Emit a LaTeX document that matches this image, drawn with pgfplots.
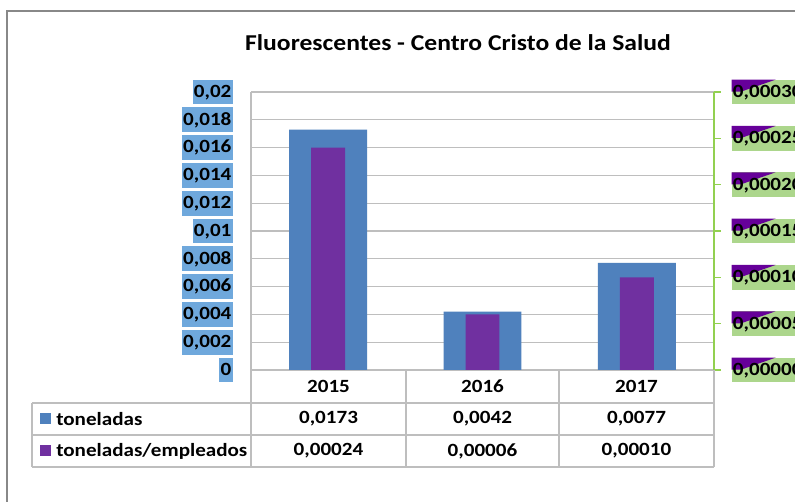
\documentclass[border=0pt]{standalone}
\usepackage{fontspec}
\setmainfont{Carlito}[FakeStretch=1.13]
\usepackage{pgfplots}
\pgfplotsset{compat=1.18}
\definecolor{tonblue}{RGB}{79,129,189}
\definecolor{tonpurp}{RGB}{112,48,160}
\definecolor{lblblue}{RGB}{111,168,220}
\definecolor{lblgreen}{RGB}{172,214,140}
\definecolor{trip}{RGB}{102,0,153}
\definecolor{axgreen}{RGB}{146,208,80}
\definecolor{gridgray}{RGB}{190,190,190}
\definecolor{framegray}{RGB}{136,136,136}
\newcommand\lblfont{\fontsize{14}{14}\selectfont\bfseries}
\newcommand\tabfont{\fontsize{14}{14}\selectfont\bfseries}
\begin{document}
\begin{tikzpicture}[x=0.75pt,y=0.75pt]
\useasboundingbox (0,0) rectangle (795,502);
\fill[white] (0,0) rectangle (795,502);
\draw[framegray, line width=1.5pt] (7,0) -- (7,491) -- (795,491);

% left axis: toneladas
\begin{axis}[
    at={(188.25pt,99pt)}, anchor=south west,
    scale only axis, width=347.25pt, height=208.5pt,
    xmin=-0.5, xmax=2.5, ymin=0, ymax=0.02,
    axis x line*=bottom, axis y line*=left,
    axis line style={gridgray, line width=1pt, -},
    xtick=\empty,
    ytick={0,0.002,0.004,0.006,0.008,0.01,0.012,0.014,0.016,0.018,0.02},
    scaled y ticks=false,
    ymajorgrids, grid style={gridgray, line width=1pt},
    major tick length=0pt,
    /pgf/number format/.cd, use comma, fixed, precision=3, assume math mode=true,
    /pgfplots/.cd,
    yticklabel style={font=\lblfont, fill=lblblue, inner xsep=1pt, inner ysep=0pt,
        text height=13.3pt, text depth=5.2pt, anchor=east, xshift=-13.5pt},
    ybar, bar width=0.505,
]
\addplot[fill=tonblue, draw=none] coordinates {(0,0.0173) (1,0.0042) (2,0.0077)};
\end{axis}

% right axis: toneladas/empleados
\begin{axis}[
    at={(188.25pt,99pt)}, anchor=south west,
    scale only axis, width=347.25pt, height=208.5pt,
    xmin=-0.5, xmax=2.5, ymin=0, ymax=0.0003,
    axis x line=none, axis y line*=right,
    axis line style={axgreen, line width=1pt, -},
    ytick={0,0.00005,0.0001,0.00015,0.0002,0.00025,0.0003},
    scaled y ticks=false,
    tick style={axgreen, line width=1pt},
    major tick length=5pt, tick align=outside,
    /pgf/number format/.cd, use comma, fixed, fixed zerofill, precision=5, assume math mode=true,
    /pgfplots/.cd,
    yticklabel style={font=\lblfont, fill=lblgreen, inner xsep=1pt, inner ysep=0pt,
        text height=13.3pt, text depth=5.2pt, anchor=west, xshift=8pt,
        path picture={\fill[trip] (path picture bounding box.north west) -- ++(33pt,0pt) -- ++(-26pt,-9pt) -- ++(-7pt,0pt) -- cycle;}},
    ybar, bar width=0.22,
]
\addplot[fill=tonpurp, draw=none] coordinates {(0,0.00024) (1,0.00006) (2,0.00010)};
\end{axis}

% title
\node[anchor=base, font=\fontsize{17}{17}\selectfont\bfseries] at (458,451) {Fluorescentes - Centro Cristo de la Salud};

% data table
\begin{scope}[gridgray, line width=1pt]
\draw (32,99) -- (714,99);
\draw (32,67) -- (714,67);
\draw (32,35) -- (714,35);
\draw (32,99) -- (32,35);
\foreach \xx in {251,406,559,714} \draw (\xx,132) -- (\xx,35);
\end{scope}
\node[font=\tabfont] at (328.5,116) {2015};
\node[font=\tabfont] at (482.5,116) {2016};
\node[font=\tabfont] at (636.5,116) {2017};
\node[font=\tabfont] at (328.5,83) {0,0173};
\node[font=\tabfont] at (482.5,83) {0,0042};
\node[font=\tabfont] at (636.5,83) {0,0077};
\node[font=\tabfont] at (328.5,51) {0,00024};
\node[font=\tabfont] at (482.5,51) {0,00006};
\node[font=\tabfont] at (636.5,51) {0,00010};
\fill[tonblue] (40,78) rectangle (51,89);
\fill[tonpurp] (40,46) rectangle (51,57);
\node[font=\tabfont, anchor=west, inner sep=0pt] at (56,83) {toneladas};
\node[font=\tabfont, anchor=west, inner sep=0pt] at (56,51) {toneladas/empleados};
\end{tikzpicture}
\end{document}
